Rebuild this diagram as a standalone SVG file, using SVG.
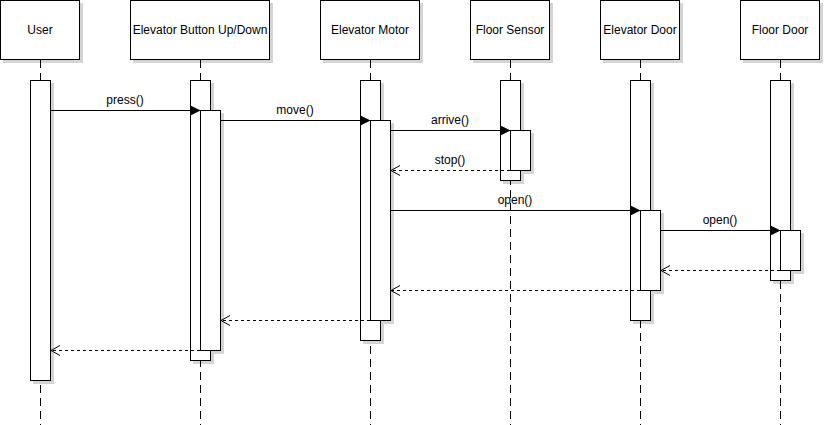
<svg xmlns="http://www.w3.org/2000/svg" width="825" height="425" viewBox="0 0 825 425">
  <style>
    .shadow { fill: #d4d4d4; stroke: none; }
    .box { fill: #ffffff; stroke: #000000; stroke-width: 1; }
    .life { stroke: #000000; stroke-width: 1; stroke-dasharray: 8 5; fill: none; }
    .title { font-family: "Liberation Sans", Arial, sans-serif; font-size: 12px; fill: #000000; text-anchor: middle; }
    .call { stroke: #000000; stroke-width: 1; fill: none; marker-end: url(#filled); }
    .ret { stroke: #000000; stroke-width: 1; fill: none; stroke-dasharray: 3 3; marker-end: url(#open); }
    .lbl { font-family: "Liberation Sans", Arial, sans-serif; font-size: 12px; fill: #000000; text-anchor: middle; }
  </style>
  <defs>
    <marker id="filled" markerUnits="userSpaceOnUse" markerWidth="11" markerHeight="11" refX="10" refY="5" orient="auto" overflow="visible">
      <path d="M0,0 L10,5 L0,10 Z" fill="#000000" stroke="none"/>
    </marker>
    <marker id="open" markerUnits="userSpaceOnUse" markerWidth="11" markerHeight="11" refX="9" refY="5" orient="auto" overflow="visible">
      <path d="M0,0 L9,5 L0,10" fill="none" stroke="#000000" stroke-width="1" stroke-dasharray="none"/>
    </marker>
  </defs>
  <rect width="825" height="425" fill="#ffffff"/>

  <!-- User -->
  <g id="user">
    <rect class="shadow" x="3" y="3" width="80" height="60"/>
    <rect class="shadow" x="33" y="83" width="21" height="301"/>
    <line class="life" x1="40.5" y1="60" x2="40.5" y2="425"/>
    <rect class="box" x="0.5" y="0.5" width="79" height="59"/>
    <text class="title" x="40" y="34">User</text>
    <rect class="box" x="30.5" y="80.5" width="20" height="300"/>
  </g>

  <!-- Elevator Button Up/Down -->
  <g id="button">
    <rect class="shadow" x="133" y="3" width="140" height="60"/>
    <rect class="shadow" x="193" y="83" width="21" height="281"/>
    <rect class="shadow" x="203" y="113" width="21" height="241"/>
    <line class="life" x1="200.5" y1="60" x2="200.5" y2="425"/>
    <rect class="box" x="130.5" y="0.5" width="139" height="59"/>
    <text class="title" x="200" y="34">Elevator Button Up/Down</text>
    <rect class="box" x="190.5" y="80.5" width="20" height="280"/>
    <rect class="box" x="200.5" y="110.5" width="20" height="240"/>
  </g>

  <!-- Elevator Motor -->
  <g id="motor">
    <rect class="shadow" x="323" y="3" width="100" height="60"/>
    <rect class="shadow" x="363" y="83" width="21" height="261"/>
    <rect class="shadow" x="373" y="123" width="21" height="201"/>
    <line class="life" x1="370.5" y1="60" x2="370.5" y2="425"/>
    <rect class="box" x="320.5" y="0.5" width="99" height="59"/>
    <text class="title" x="370" y="34">Elevator Motor</text>
    <rect class="box" x="360.5" y="80.5" width="20" height="260"/>
    <rect class="box" x="370.5" y="120.5" width="20" height="200"/>
  </g>

  <!-- Floor Sensor -->
  <g id="sensor">
    <rect class="shadow" x="473" y="3" width="80" height="60"/>
    <rect class="shadow" x="503" y="83" width="21" height="101"/>
    <rect class="shadow" x="513" y="133" width="21" height="41"/>
    <line class="life" x1="510.5" y1="60" x2="510.5" y2="425"/>
    <rect class="box" x="470.5" y="0.5" width="79" height="59"/>
    <text class="title" x="510" y="34">Floor Sensor</text>
    <rect class="box" x="500.5" y="80.5" width="20" height="100"/>
    <rect class="box" x="510.5" y="130.5" width="20" height="40"/>
  </g>

  <!-- Elevator Door -->
  <g id="elevator-door">
    <rect class="shadow" x="603" y="3" width="80" height="60"/>
    <rect class="shadow" x="633" y="83" width="21" height="241"/>
    <rect class="shadow" x="643" y="213" width="21" height="81"/>
    <line class="life" x1="640.5" y1="60" x2="640.5" y2="425"/>
    <rect class="box" x="600.5" y="0.5" width="79" height="59"/>
    <text class="title" x="640" y="34">Elevator Door</text>
    <rect class="box" x="630.5" y="80.5" width="20" height="240"/>
    <rect class="box" x="640.5" y="210.5" width="20" height="80"/>
  </g>

  <!-- Floor Door -->
  <g id="floor-door">
    <rect class="shadow" x="743" y="3" width="80" height="60"/>
    <rect class="shadow" x="773" y="83" width="21" height="201"/>
    <rect class="shadow" x="783" y="233" width="21" height="41"/>
    <line class="life" x1="780.5" y1="60" x2="780.5" y2="425"/>
    <rect class="box" x="740.5" y="0.5" width="79" height="59"/>
    <text class="title" x="780" y="34">Floor Door</text>
    <rect class="box" x="770.5" y="80.5" width="20" height="200"/>
    <rect class="box" x="780.5" y="230.5" width="20" height="40"/>
  </g>

  <!-- Messages -->
  <g id="connectors">
    <line class="call" x1="51" y1="110.5" x2="200.5" y2="110.5"/>
    <text class="lbl" x="125" y="104">press()</text>

    <line class="call" x1="221" y1="120.5" x2="370.5" y2="120.5"/>
    <text class="lbl" x="295" y="114">move()</text>

    <line class="call" x1="391" y1="130.5" x2="510.5" y2="130.5"/>
    <text class="lbl" x="450" y="124">arrive()</text>

    <line class="ret" x1="510" y1="170.5" x2="391" y2="170.5"/>
    <text class="lbl" x="450" y="164">stop()</text>

    <line class="call" x1="391" y1="210.5" x2="640.5" y2="210.5"/>
    <text class="lbl" x="515" y="204">open()</text>

    <line class="call" x1="661" y1="230.5" x2="780.5" y2="230.5"/>
    <text class="lbl" x="720" y="224">open()</text>

    <line class="ret" x1="780" y1="270.5" x2="661" y2="270.5"/>
    <line class="ret" x1="640" y1="290.5" x2="391" y2="290.5"/>
    <line class="ret" x1="370" y1="320.5" x2="221" y2="320.5"/>
    <line class="ret" x1="200" y1="350.5" x2="51" y2="350.5"/>
  </g>
</svg>
